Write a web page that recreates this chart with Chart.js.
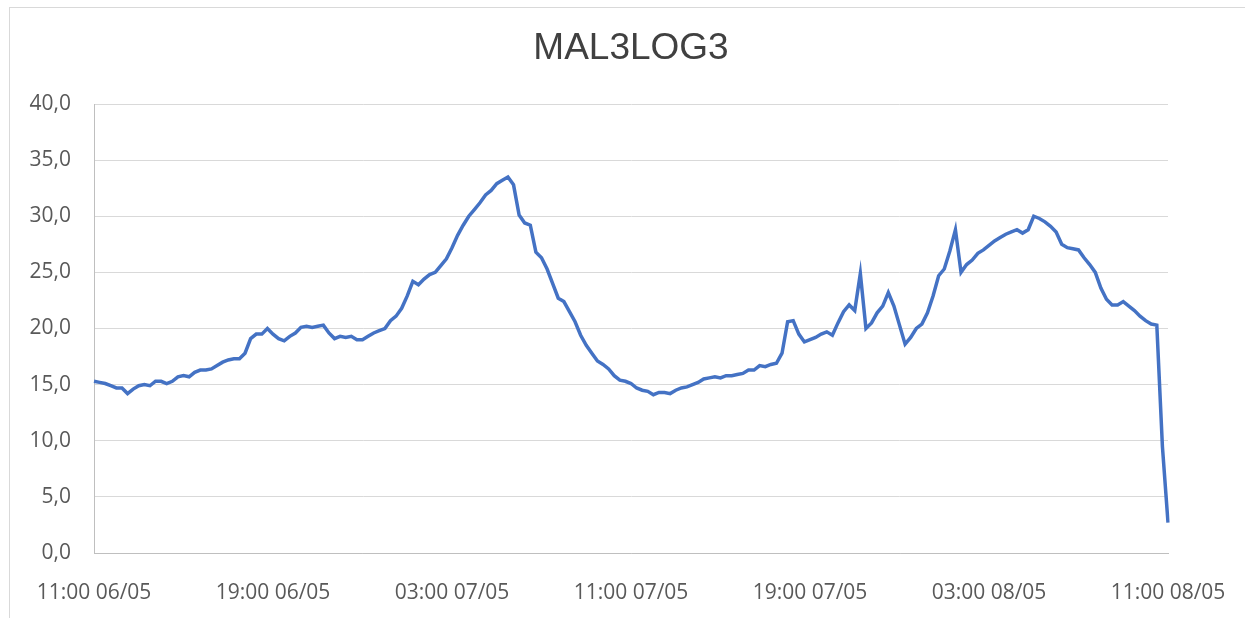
<!DOCTYPE html>
<html>
<head>
<meta charset="utf-8">
<title>MAL3LOG3</title>
<script src="https://cdn.jsdelivr.net/npm/chart.js@4.4.1/dist/chart.umd.min.js"></script>
<style>
    html, body {
        margin: 0;
        padding: 0;
        background: #ffffff;
        overflow: hidden;
    }

    #wrap {
        position: relative;
        width: 1245px;
        height: 618px;
    }

    #frame {
        position: absolute;
        left: 9px;
        top: 7px;
        width: 1300px;
        height: 700px;
        border: 1px solid #d9d9d9;
        pointer-events: none;
    }
</style>
</head>
<body>
<div id="wrap">
    <canvas id="logChart" width="1245" height="618"></canvas>
    <div id="frame"></div>
</div>

<script>
// readings every 15 minutes, starting 11:00 06/05
const chartTitle = "MAL3LOG3";
const startDay = 6;
const startHour = 11;
const stepMinutes = 15;

const tickLabels = [
    "11:00 06/05",
    "19:00 06/05",
    "03:00 07/05",
    "11:00 07/05",
    "19:00 07/05",
    "03:00 08/05",
    "11:00 08/05"
];
const tickEvery = 32;

const values = [
    15.3, 15.2, 15.1, 14.9, 14.7, 14.7, 14.2, 14.6, 14.9, 15.0,
    14.9, 15.3, 15.3, 15.1, 15.3, 15.7, 15.8, 15.7, 16.1, 16.3,
    16.3, 16.4, 16.7, 17.0, 17.2, 17.3, 17.3, 17.8, 19.1, 19.5,
    19.5, 20.0, 19.5, 19.1, 18.9, 19.3, 19.6, 20.1, 20.2, 20.1,
    20.2, 20.3, 19.6, 19.1, 19.3, 19.2, 19.3, 19.0, 19.0, 19.3,
    19.6, 19.8, 20.0, 20.7, 21.1, 21.8, 22.9, 24.2, 23.9, 24.4,
    24.8, 25.0, 25.6, 26.2, 27.2, 28.3, 29.2, 30.0, 30.6, 31.2,
    31.9, 32.3, 32.9, 33.2, 33.5, 32.8, 30.1, 29.4, 29.2, 26.8,
    26.3, 25.3, 24.0, 22.7, 22.4, 21.5, 20.6, 19.4, 18.5, 17.8,
    17.1, 16.8, 16.4, 15.8, 15.4, 15.3, 15.1, 14.7, 14.5, 14.4,
    14.1, 14.3, 14.3, 14.2, 14.5, 14.7, 14.8, 15.0, 15.2, 15.5,
    15.6, 15.7, 15.6, 15.8, 15.8, 15.9, 16.0, 16.3, 16.3, 16.7,
    16.6, 16.8, 16.9, 17.8, 20.6, 20.7, 19.5, 18.8, 19.0, 19.2,
    19.5, 19.7, 19.4, 20.5, 21.5, 22.1, 21.6, 24.9, 20.0, 20.5,
    21.4, 22.0, 23.2, 22.0, 20.3, 18.6, 19.2, 20.0, 20.4, 21.4,
    22.9, 24.7, 25.3, 26.9, 28.8, 25.0, 25.7, 26.1, 26.7, 27.0,
    27.4, 27.8, 28.1, 28.4, 28.6, 28.8, 28.5, 28.8, 30.0, 29.8,
    29.5, 29.1, 28.6, 27.5, 27.2, 27.1, 27.0, 26.3, 25.7, 25.0,
    23.6, 22.6, 22.1, 22.1, 22.4, 22.0, 21.6, 21.1, 20.7, 20.4,
    20.3, 9.5, 2.7
];

function pad(n) {
    return n < 10 ? "0" + n : "" + n;
}

function buildCategories(count) {
    const labels = [];
    for (let i = 0; i < count; i++) {
        const total = startHour * 60 + i * stepMinutes;
        const day = startDay + Math.floor(total / 1440);
        const mins = total % 1440;
        labels.push(pad(Math.floor(mins / 60)) + ":" + pad(mins % 60) + " " + pad(day) + "/05");
    }
    return labels;
}

const categories = buildCategories(values.length);

// title centred over the plot area, like the spreadsheet chart
const plotTitle = {
    id: "plotTitle",
    afterDraw(chart) {
        const c = chart.ctx;
        const area = chart.chartArea;
        c.save();
        c.fillStyle = "#404040";
        c.font = "37px 'Liberation Sans', Arial, sans-serif";
        c.textAlign = "center";
        c.textBaseline = "middle";
        c.fillText(chartTitle, (area.left + area.right) / 2, 49);
        c.restore();
    }
};

const ctx = document.getElementById("logChart").getContext("2d");

new Chart(ctx, {
    type: "line",

    data: {
        labels: categories,

        datasets: [
            {
                label: chartTitle,
                data: values,
                borderColor: "#4472c4",
                borderWidth: 3.5,
                pointRadius: 0,
                tension: 0,
                fill: false
            }
        ]
    },

    plugins: [plotTitle],

    options: {
        responsive: false,
        animation: false,
        devicePixelRatio: 1,

        layout: {
            padding: { left: 0, right: 77, top: 104, bottom: 0 }
        },

        plugins: {
            legend: { display: false },
            tooltip: { enabled: false },
            title: { display: false }
        },

        scales: {
            x: {
                type: "category",
                offset: false,
                afterFit: function (scale) {
                    scale.height = 65;
                    scale.paddingLeft = 0;
                    scale.paddingRight = 0;
                },
                grid: { display: false, drawTicks: false },
                border: { display: true, color: "#bfbfbf", width: 1 },
                ticks: {
                    autoSkip: false,
                    maxRotation: 0,
                    minRotation: 0,
                    padding: 27,
                    color: "#595959",
                    font: { family: "'Open Sans', sans-serif", size: 21 },
                    callback: function (value, index) {
                        return index % tickEvery === 0 ? tickLabels[index / tickEvery] : "";
                    }
                }
            },
            y: {
                min: 0,
                max: 40,
                afterFit: function (scale) {
                    scale.width = 94;
                },
                grid: { color: "#d9d9d9", lineWidth: 1, drawTicks: false },
                border: { display: true, color: "#bfbfbf", width: 1 },
                ticks: {
                    stepSize: 5,
                    padding: 23,
                    color: "#595959",
                    font: { family: "'Open Sans', sans-serif", size: 21 },
                    callback: function (value) {
                        return value.toFixed(1).replace(".", ",");
                    }
                }
            }
        }
    }
});
</script>
</body>
</html>
